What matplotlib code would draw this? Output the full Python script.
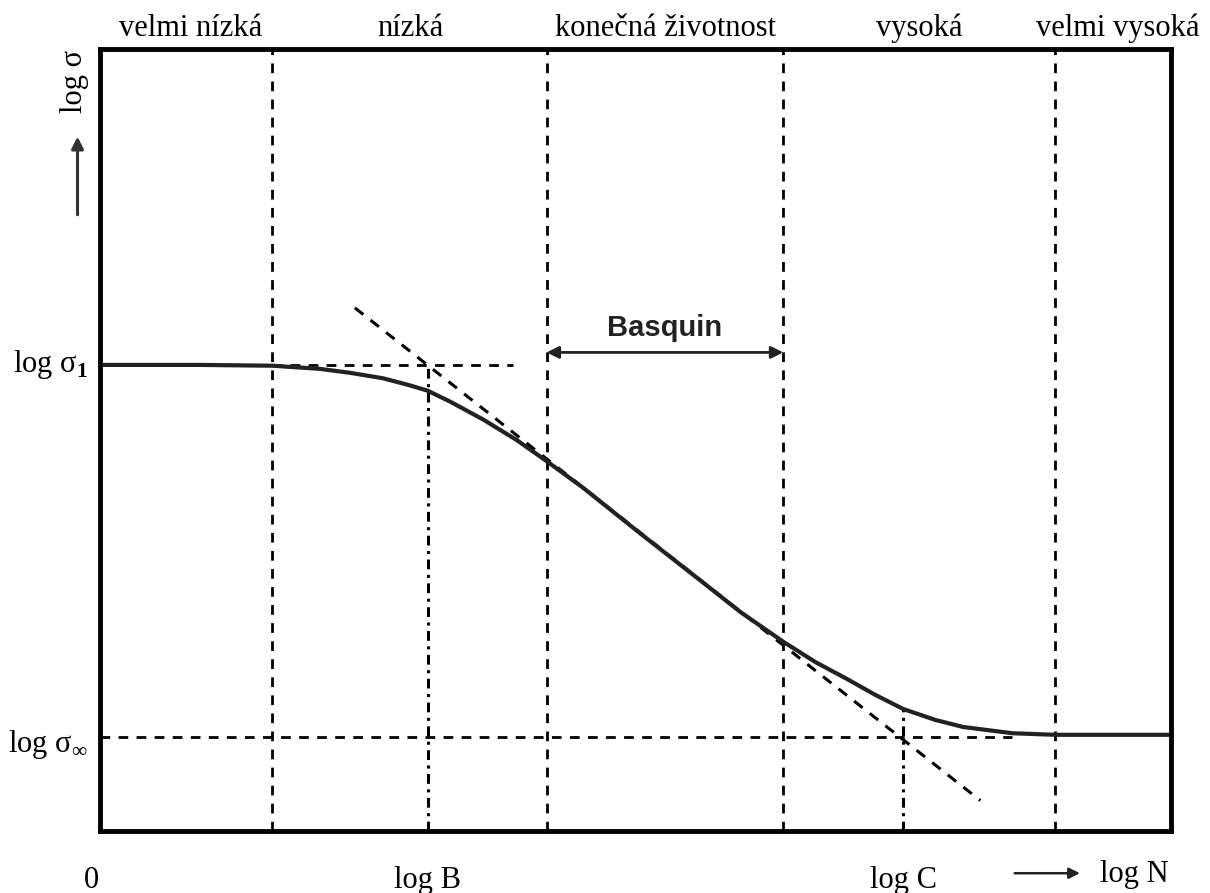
import numpy as np
import matplotlib.pyplot as plt

plt.rcParams['font.family'] = ['Liberation Serif', 'DejaVu Serif']
plt.rcParams['mathtext.fontset'] = 'custom'
plt.rcParams['mathtext.rm'] = 'Liberation Serif'
plt.rcParams['mathtext.bf'] = 'Liberation Serif:bold'

# regions of life (labels on top) and their boundaries in log N
regions = ['velmi nízká', 'nízká', 'konečná životnost', 'vysoká', 'velmi vysoká']
region_centres = [0.85, 2.9, 5.28, 7.65, 9.5]
bounds = [1.61, 4.17, 6.38, 8.92]

# characteristic points
log_B = 3.06
log_C = 7.50
log_s1 = 5.96
log_sinf = 1.20

# S-N curve (log N, log sigma)
curve_x = [0.0, 0.93, 1.61, 2.05, 2.33, 2.64, 2.89, 3.06, 3.27, 3.58, 3.89,
           4.17, 4.51, 5.04, 5.60, 5.98, 6.38, 6.68, 6.98, 7.24, 7.50, 7.80,
           8.06, 8.52, 8.92, 10.0]
curve_y = [5.96, 5.96, 5.95, 5.91, 5.86, 5.79, 5.70, 5.63, 5.49, 5.26, 5.00,
           4.73, 4.39, 3.81, 3.21, 2.80, 2.42, 2.16, 1.94, 1.74, 1.56, 1.42,
           1.33, 1.25, 1.23, 1.23]

# Basquin tangent line end points
tan_x = [2.38, 8.22]
tan_y = [6.69, 0.39]

fig = plt.figure(figsize=(12.1, 8.93), dpi=100)
ax = fig.add_axes([100/1210, 1 - 831/893, 1071/1210, 782/893])
ax.set_xlim(0, 10)
ax.set_ylim(0, 10)
ax.set_xticks([])
ax.set_yticks([])
for s in ax.spines.values():
    s.set_linewidth(3.5)
    s.set_color('black')

dash = (0, (3.5, 3))
dashdot = (0, (3.2, 1.8, 1.0, 1.8))

# vertical region boundaries
for b in bounds:
    ax.axvline(b, color='black', lw=2, linestyle=dash)

# horizontal helper lines
ax.plot([0, 8.52], [log_sinf, log_sinf], color='black', lw=2, linestyle=dash)
ax.plot([1.61, 3.86], [log_s1, log_s1], color='black', lw=2, linestyle=dash)

# dash-dot verticals at log B and log C
ax.plot([log_B, log_B], [0, log_s1], color='black', lw=2.2, linestyle=dashdot)
ax.plot([log_C, log_C], [0, 1.56], color='black', lw=2.2, linestyle=dashdot)

# tangent
ax.plot(tan_x, tan_y, color='black', lw=2.2, linestyle=dash)

# the curve
ax.plot(curve_x, curve_y, color='#222222', lw=3, solid_capstyle='round',
        solid_joinstyle='round')

# Basquin arrow
ax.annotate('', xy=(bounds[1], 6.12), xytext=(bounds[2], 6.12),
            arrowprops=dict(arrowstyle='<|-|>', color='#222222', lw=2,
                            mutation_scale=18, shrinkA=0, shrinkB=0))
ax.text((bounds[1] + bounds[2]) / 2, 6.43, 'Basquin', ha='center', va='center',
        fontsize=21, fontweight='bold', family='Liberation Sans', color='#222222')

# top labels
for lab, cx in zip(regions, region_centres):
    ax.text(cx, 10.17, lab, ha='center', va='baseline', fontsize=22, clip_on=False)

# y axis labels
ax.text(-0.11, log_s1, r'log $\mathrm{\sigma}_{\mathbf{1}}$', ha='right', va='center',
        fontsize=22, clip_on=False)
ax.text(-0.11, log_sinf - 0.1, r'log $\mathrm{\sigma}_{\infty}$', ha='right', va='center',
        fontsize=22, clip_on=False)
ax.text(-0.24, 9.58, 'log σ', rotation=90, ha='center', va='center', fontsize=22,
        clip_on=False)
ax.annotate('', xy=(-0.21, 8.88), xytext=(-0.21, 7.88), annotation_clip=False,
            arrowprops=dict(arrowstyle='-|>', color='#333333', lw=2.2, mutation_scale=18,
                            shrinkA=0, shrinkB=0))

# x axis labels
ax.text(-0.08, -0.73, '0', ha='center', va='baseline', fontsize=22, clip_on=False)
ax.text(log_B, -0.73, 'log B', ha='center', va='baseline', fontsize=22, clip_on=False)
ax.text(log_C, -0.73, 'log C', ha='center', va='baseline', fontsize=22, clip_on=False)
ax.annotate('', xy=(9.15, -0.54), xytext=(8.54, -0.54), annotation_clip=False,
            arrowprops=dict(arrowstyle='-|>', color='#222222', lw=1.8, mutation_scale=16,
                            shrinkA=0, shrinkB=0))
ax.text(9.34, -0.65, 'log N', ha='left', va='baseline', fontsize=22, clip_on=False)

fig.savefig('out.png', dpi=100)
